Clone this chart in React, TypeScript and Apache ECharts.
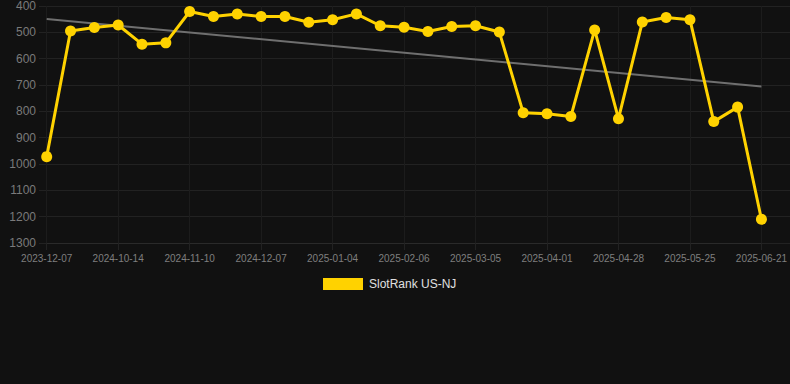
import React, { useEffect, useRef } from "react";
import * as echarts from "echarts";

const labeledDates = [
  "2023-12-07", "2024-10-14", "2024-11-10", "2024-12-07", "2025-01-04", "2025-02-06",
  "2025-03-05", "2025-04-01", "2025-04-28", "2025-05-25", "2025-06-21",
];
const labelEvery = 3;
const rankValues = [
  972, 495, 482, 472, 545, 540, 421, 440, 430, 440, 440, 462, 452, 430, 475, 481,
  497, 478, 475, 499, 805, 809, 820, 491, 828, 461, 444, 452, 839, 784, 1210,
];
const trendEnds = [449, 706];
const yTicks = { min: 400, max: 1300, step: 100 };
const seriesName = "SlotRank US-NJ";

export default function App() {
  const ref = useRef<HTMLDivElement>(null);
  useEffect(() => {
    if (!ref.current) return;
    const chart = echarts.init(ref.current, null, { renderer: "svg" });
    const categories = rankValues.map((_, i) =>
      i % labelEvery === 0 ? labeledDates[i / labelEvery] : ""
    );
    const font = "'Liberation Sans', Arial, Helvetica, sans-serif";
    const gridTop = 6;
    const gridBottom = 141;
    chart.setOption({
      animation: false,
      backgroundColor: "#111111",
      textStyle: { fontFamily: font },
      grid: [
        { left: 39, right: 0, top: gridTop, bottom: gridBottom },
        { left: 46.7, right: 28.3, top: gridTop, bottom: gridBottom },
      ],
      xAxis: [
        { type: "value", gridIndex: 0, min: 0, max: 1, show: false },
        {
          type: "category",
          gridIndex: 1,
          data: categories,
          boundaryGap: false,
          axisLine: { show: true, lineStyle: { color: "#2a2a2a", width: 1 } },
          axisTick: { show: true, interval: labelEvery - 1, length: 7, lineStyle: { color: "#222222" } },
          axisLabel: {
            interval: labelEvery - 1,
            color: "#7f7f7f",
            fontSize: 10,
            margin: 10,
            fontFamily: font,
          },
          splitLine: { show: true, interval: labelEvery - 1, lineStyle: { color: "#1c1c1c", width: 1 } },
        },
      ],
      yAxis: [
        {
          type: "value",
          gridIndex: 0,
          inverse: true,
          min: yTicks.min,
          max: yTicks.max,
          interval: yTicks.step,
          axisLine: { show: false },
          axisTick: { show: false },
          axisLabel: {
            color: "#7a7a7a",
            fontSize: 12,
            margin: 3,
            fontFamily: font,
            formatter: (v: number) => String(v),
          },
          splitLine: { show: true, lineStyle: { color: "#222222", width: 1 } },
        },
        {
          type: "value",
          gridIndex: 1,
          inverse: true,
          min: yTicks.min,
          max: yTicks.max,
          interval: yTicks.step,
          show: false,
          splitLine: { show: false },
        },
      ],
      legend: {
        data: [seriesName],
        left: 323,
        top: 278,
        padding: 0,
        icon: "rect",
        itemWidth: 40,
        itemHeight: 12,
        itemGap: 10,
        textStyle: { color: "#e0e0e0", fontSize: 12, fontFamily: font, padding: [0, 0, 0, 1] },
      },
      series: [
        {
          name: "trend",
          type: "line",
          xAxisIndex: 1,
          yAxisIndex: 1,
          data: [
            [0, trendEnds[0]],
            [rankValues.length - 1, trendEnds[1]],
          ],
          showSymbol: false,
          symbol: "none",
          lineStyle: { color: "#6f6f6f", width: 2 },
          z: 1,
          silent: true,
        },
        {
          name: seriesName,
          type: "line",
          xAxisIndex: 1,
          yAxisIndex: 1,
          data: rankValues,
          symbol: "circle",
          symbolSize: 11,
          showSymbol: true,
          itemStyle: { color: "#FFD200" },
          lineStyle: { color: "#FFD200", width: 3 },
          z: 2,
        },
      ],
    });
    return () => chart.dispose();
  }, []);
  return (
    <div
      ref={ref}
      style={{ position: "fixed", left: 0, top: 0, width: 790, height: 384 }}
    />
  );
}
